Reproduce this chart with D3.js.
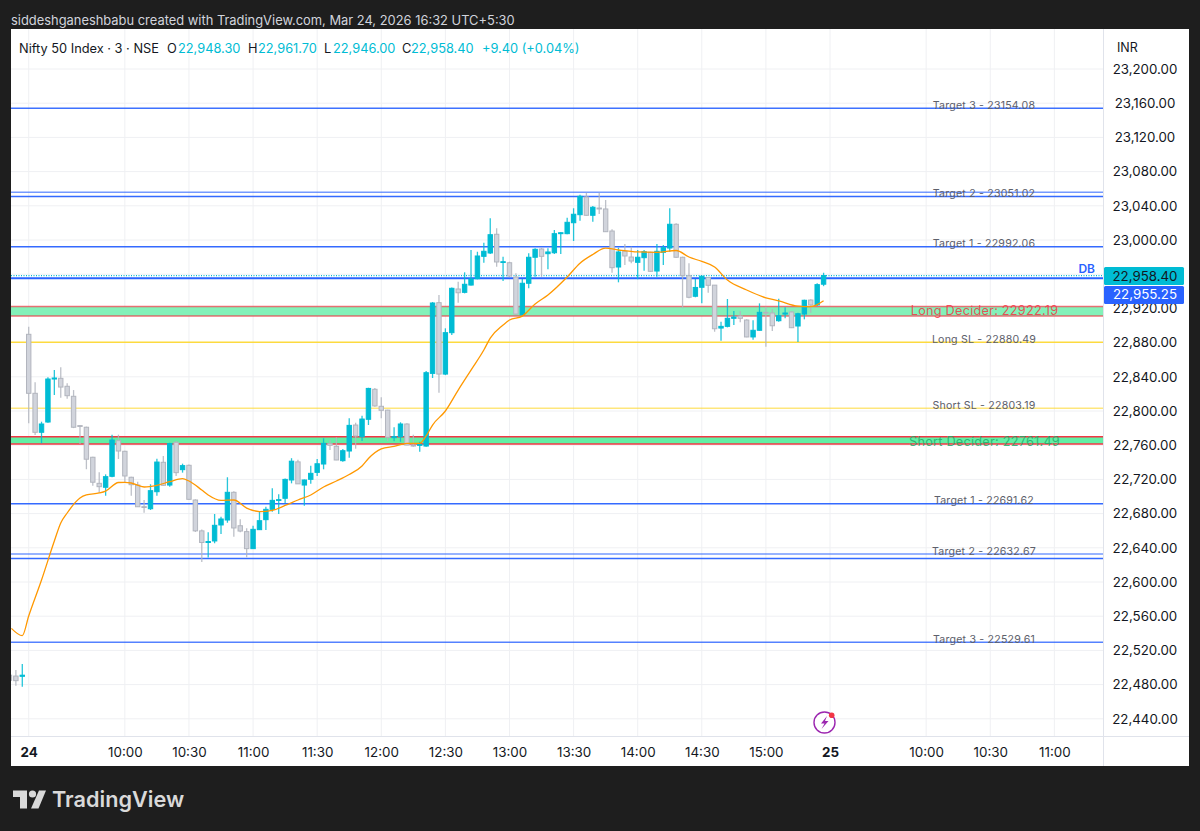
<!DOCTYPE html>
<html>
<head>
<meta charset="utf-8">
<script src="https://cdn.jsdelivr.net/npm/d3@7"></script>
<style>
  html, body { margin: 0; padding: 0; background: #1e1e1e; }
  svg { display: block; }
  text { font-family: Inter, "Noto Sans", sans-serif; }
</style>
</head>
<body>
<div id="data"></div>
<script>
// bars run from -3 (last bars of the 23rd) to 124 (15:27 on the 24th)
var firstBar = -3
var opens = [22491,22490,22489.7,22889.7,22820.7,22775.1,22787.1,22837.4,22838.2,22828.9,22817.2,22782.9,22781,22745.9,22715.4,22710.8,22723.6,22765.3,22752.9,22722.5,22713.4,22688.1,22685.7,22705.6,22740,22713.4,22763.4,22731.4,22736.5,22695.9,22659.8,22646.2,22648,22666.7,22672.5,22704.9,22665.8,22658.9,22639,22661.2,22672.9,22685,22695.5,22697.9,22719.3,22740.5,22713.4,22720.1,22728.2,22738,22761.8,22758.7,22741.9,22753.2,22783.6,22770,22790.3,22825.4,22805.5,22801,22768.8,22770,22784.8,22760.2,22759.8,22759,22844,22926.7,22843.2,22891.6,22942.7,22938.8,22947.3,22954.7,22980.9,22984.8,23006.7,22973.9,22973.4,22956.7,22912.6,22949.4,22979.8,22989.5,22984,22985.1,23007.4,23007.4,23020.2,23029.6,23050.3,23028.9,23037.4,23036.3,23010.5,22968.4,22986.8,22980.1,22973.9,22979.3,22985.6,22963.7,22985.6,22990.6,23018.4,22979.8,22958.3,22934.2,22944.7,22956.2,22947.2,22897,22899,22908.4,22911.1,22906.4,22886.6,22894.4,22915.4,22914.6,22905.6,22913.4,22915.8,22899.4,22913.4,22929.8,22924,22948.3]
var highs = [22495,22497.1,22504.1,22898.6,22833.5,22787.5,22839.4,22847.9,22851.1,22832.4,22824.5,22782.9,22781.7,22746.6,22728.3,22725.9,22772.3,22772.3,22753.6,22723.2,22717.3,22695.9,22714.3,22744.2,22747.4,22763,22764.9,22738.4,22737.5,22696.7,22661.4,22658.1,22679.5,22676.4,22722.5,22706.1,22673.3,22662.8,22665.8,22682.2,22688.1,22709.6,22702.6,22721,22744.8,22742.9,22720,22736,22743.8,22768.1,22766.1,22769.2,22755.6,22791.4,22786.3,22794.5,22827.2,22826.9,22816,22801.6,22780.9,22786.8,22785.6,22772.3,22764,22846.8,22927.5,22935.6,22896.7,22944.3,22951.2,22962.2,22988.3,22986.3,22996.8,23025.4,23013.7,22980.5,22974.6,22961.1,22954.4,22984.4,22990.3,22991,22990.3,23011.7,23009,23026.1,23037.1,23053,23055.3,23039.8,23055.3,23046.8,23012.5,22991,22995.3,22992.2,22988.3,22988.3,22986.3,22995.3,22994.1,23037.1,23019.5,22980.5,22972.7,22954.4,22958.3,22956.4,22947.4,22904.4,22931,22916.9,22916.9,22907.2,22906,22925.9,22922,22919,22931.3,22921.3,22916.9,22915,22930.2,22930.6,22949.4,22961.7]
var lows = [22480,22478.7,22477.5,22785.7,22772,22762.3,22786.3,22818.7,22815.6,22814.3,22780,22761.4,22731.9,22712.7,22704.4,22700.9,22722.5,22743.9,22716.6,22700.9,22688,22681,22684.2,22700.9,22712.3,22711.5,22724,22727.9,22696,22658.6,22623.5,22628.7,22645.3,22656.2,22669.4,22653,22658.1,22628.9,22638.7,22660.8,22660.8,22682.2,22679.5,22692,22715.4,22714.5,22689.2,22714.8,22723.9,22731.8,22754.4,22742.5,22740.7,22745.4,22755.9,22764.9,22783.6,22805.1,22791.4,22764.9,22764.5,22764,22760,22758.2,22752.4,22758.2,22838.6,22821.4,22842,22888.8,22926.6,22937.6,22946.7,22954,22973.4,22983.6,22968.8,22952,22956.4,22913,22911.9,22943.5,22957.1,22957.1,22965.7,22983.6,22983.6,23006.7,22998.8,23022.6,23028.4,23021.4,23030.4,23009.5,22961.8,22950.5,22970.8,22972.7,22954,22964.1,22962.9,22957.1,22970.8,22986.3,22979.3,22920.2,22931.8,22933,22925.9,22938.4,22892.7,22882.2,22897.8,22900.6,22903.7,22886.2,22883.4,22893.9,22875.1,22893.5,22904.4,22908.4,22897,22880.7,22907.2,22915,22922.9,22946]
var closes = [22485,22484.6,22491,22820.7,22775.1,22784.8,22837.4,22838.6,22828,22817.9,22781,22782.2,22743.6,22716.7,22711.5,22723.2,22766.1,22753.2,22724,22713.8,22688,22687.7,22706.8,22740.3,22713.1,22762,22727.9,22736.1,22696.7,22659.8,22646.2,22647.3,22666.3,22673.7,22704.9,22663.2,22659.6,22639,22661.6,22671.7,22685,22695.5,22696.3,22720,22741.3,22714.8,22719.3,22727.1,22738.3,22762.2,22759.9,22742.7,22753.6,22783.2,22770.7,22790.6,22826.4,22805.9,22800.8,22769.2,22770,22784.8,22760.2,22759,22760.9,22844.8,22926.3,22843.2,22891.6,22943.5,22938.3,22948.2,22954.4,22981.3,22986.8,23006.2,22974.3,22974.6,22957.9,22913.4,22949.4,22979.8,22989.1,22980.9,22986,23007.4,23008.5,23020.7,23030.1,23051.1,23028.9,23038.3,23036.3,23009.7,22967.6,22986,22981.3,22975.4,22979.8,22986.3,22963.4,22986.8,22991,23018.4,22979.8,22958.3,22933,22944.5,22957.6,22947,22896.2,22899,22908.4,22909.9,22908.4,22886.6,22894.4,22915.4,22914.6,22899.7,22911.4,22914.6,22897.4,22913.8,22929.5,22924,22947.8,22958.4]

// EMA, on the bars where it bends
var emaBars = [-2.7,-1,0,2,4,5,6,8,9,11,12,14,15,16,18,20,22,24,25,27,28,30,32,34,36,38,40,42,44,46,48,50,52,53,55,57,59,61,62,63,65,67,69,71,72,74,75,77,79,81,84,86,88,90,92,95,98,101,103,105,107,109,112,115,117,120,122,124]
var emaValues = [22545.8,22537.2,22560.2,22602.3,22647.9,22669,22680.7,22698.2,22701.8,22704.1,22706.4,22716.4,22716.6,22715.8,22711.1,22713.1,22717.3,22720.8,22718.1,22707.6,22701.8,22695.5,22695.9,22686.5,22682.4,22683.8,22689.5,22695.9,22701.8,22711.1,22718.1,22725.7,22735.7,22744.4,22755.6,22758.7,22762.2,22762.2,22770.8,22783.6,22800,22824.5,22847.9,22871.3,22885.3,22900.5,22906.4,22911,22925.2,22935.7,22956.7,22972.9,22983.1,22990.4,22988.3,22986,22985.6,22987.7,22980.1,22974.9,22968.4,22953.2,22941.5,22932.4,22928.9,22922.7,22922.1,22928.9]

var priceGrid = [23200,23160,23120,23080,23040,23000,22960,22920,22880,22840,22800,22760,22720,22680,22640,22600,22560,22520,22480,22440]
// 22,960 sits under the price tags, so it gets a grid line and no label
var priceTicks = [23200,23160,23120,23080,23040,23000,22920,22880,22840,22800,22760,22720,22680,22640,22600,22560,22520,22480,22440]
var timeTicks = [0,15,25,35,45,55,65,75,85,95,105,115,125,140,150,160]
var timeLabels = ['24','10:00','10:30','11:00','11:30','12:00','12:30','13:00','13:30','14:00','14:30','15:00','25','10:00','10:30','11:00']

// drawn levels
var targetPrices = [23154.08,23055.9,23051.02,22992.06,22691.62,22632.67,22627.5,22529.61]
var targetAlpha = [0.9,0.65,0.95,0.95,0.95,0.65,0.95,0.8]
var slPrices = [22880.49,22803.19]
var bandTop = [22922.19,22770]
var bandBottom = [22911,22761.49]
var bandFill = ['#83f1b9','#62efa5']
var labelPrices = [23154.08,23051.02,22992.06,22880.49,22803.19,22691.62,22632.67,22529.61]
var labelTexts = ['Target 3 - 23154.08','Target 2 - 23051.02','Target 1 - 22992.06','Long SL - 22880.49','Short SL - 22803.19','Target 1 - 22691.62','Target 2 - 22632.67','Target 3 - 22529.61']
var legendParts = ['O','22,948.30','H','22,961.70','L','22,946.00','C','22,958.40','+9.40 (+0.04%)']
var legendX = [167,178,248,258,324,333,402,411,482]

var teal = '#00bcd4', grey = '#d1d4dc', greyEdge = '#b2b5be', blue = '#2962ff'
var left = 11, right = 1103.5, top_ = 29, bottom = 736.5

var svg = d3.select('div#data').append('svg').attr('width', 1200).attr('height', 831)
svg.append('rect').attr('width', 1200).attr('height', 831).attr('fill', '#1e1e1e')
svg.append('rect').attr('x', left).attr('y', top_).attr('width', 1178).attr('height', 737).attr('fill', '#fff')

svg.append('text').attr('x', 11).attr('y', 24.5).attr('font-size', 12.9).attr('fill', '#d1d4dc')
  .text('siddeshganeshbabu created with TradingView.com, Mar 24, 2026 16:32 UTC+5:30')

var x = d3.scaleLinear().domain([0, 125]).range([28.7, 830])
var y = d3.scaleLinear().domain([23000, 22440]).range([240, 718.8])

svg.append('clipPath').attr('id', 'plot').append('rect')
  .attr('x', left).attr('y', top_).attr('width', right - left).attr('height', bottom - top_)

// axes and grid
var priceAxis = d3.axisRight(y).tickValues(priceTicks).tickSize(0).tickPadding(0).tickFormat(d3.format(',.2f'))
var gy = svg.append('g').attr('transform', 'translate(' + right + ',0)').call(priceAxis)
gy.select('.domain').remove()
gy.selectAll('text').attr('x', 41.5).attr('text-anchor', 'middle').attr('font-size', 13.3)
  .attr('font-family', 'Inter').attr('fill', '#131722')

var timeAxis = d3.axisBottom(x).tickValues(timeTicks).tickSize(0).tickPadding(0)
  .tickFormat(function(d, i){ return timeLabels[i] })
var gx = svg.append('g').attr('transform', 'translate(0,' + bottom + ')').call(timeAxis)
gx.select('.domain').remove()
gx.selectAll('text').attr('y', 11).attr('dy', '0.72em').attr('font-size', 13.4).attr('font-family', 'Inter')
  .attr('fill', '#131722').attr('font-weight', function(d){ return (d == 0 || d == 125) ? 700 : 400 })

var plot = svg.append('g').attr('clip-path', 'url(#plot)')
plot.selectAll('line.gh').data(priceGrid).enter().append('line').attr('class', 'gh')
  .attr('x1', left).attr('x2', right).attr('y1', y).attr('y2', y).attr('stroke', '#eff0f3').attr('stroke-width', 1)
plot.selectAll('line.gv').data(timeTicks).enter().append('line').attr('class', 'gv')
  .attr('x1', x).attr('x2', x).attr('y1', top_).attr('y2', bottom).attr('stroke', '#eff0f3').attr('stroke-width', 1)

// levels
bandTop.forEach(function(p, i){
  plot.append('rect').attr('x', left).attr('width', right - left)
    .attr('y', y(p)).attr('height', y(bandBottom[i]) - y(p)).attr('fill', bandFill[i])
  ;[p, bandBottom[i]].forEach(function(q){
    plot.append('line').attr('x1', left).attr('x2', right).attr('y1', y(q)).attr('y2', y(q))
      .attr('stroke', '#f23645').attr('stroke-width', 1.5).attr('stroke-opacity', i == 0 ? 0.7 : 1)
  })
})
plot.selectAll('line.sl').data(slPrices).enter().append('line').attr('class', 'sl')
  .attr('x1', left).attr('x2', right).attr('y1', y).attr('y2', y)
  .attr('stroke', '#fdd835').attr('stroke-width', 1.6).attr('stroke-opacity', function(d, i){ return i ? 0.65 : 0.95 })
plot.selectAll('line.tg').data(targetPrices).enter().append('line').attr('class', 'tg')
  .attr('x1', left).attr('x2', right).attr('y1', y).attr('y2', y)
  .attr('stroke', blue).attr('stroke-width', 1.5).attr('stroke-opacity', function(d, i){ return targetAlpha[i] })
plot.append('line').attr('x1', left).attr('x2', right).attr('y1', y(22958.4)).attr('y2', y(22958.4))
  .attr('stroke', teal).attr('stroke-width', 1.2).attr('stroke-dasharray', '1,1.5')
plot.append('line').attr('x1', left).attr('x2', right).attr('y1', y(22955.25)).attr('y2', y(22955.25))
  .attr('stroke', blue).attr('stroke-width', 2)

// candles
var bars = opens.map(function(o, i){
  return { i: firstBar + i, o: o, h: highs[i], l: lows[i], c: closes[i], up: closes[i] >= o }
})
var candle = plot.selectAll('g.candle').data(bars).enter().append('g').attr('class', 'candle')
candle.append('line')
  .attr('x1', function(d){ return x(d.i) }).attr('x2', function(d){ return x(d.i) })
  .attr('y1', function(d){ return y(d.h) }).attr('y2', function(d){ return y(d.l) })
  .attr('stroke', function(d){ return d.up ? teal : greyEdge }).attr('stroke-width', 1.3).attr('stroke-opacity', 0.85)
candle.append('rect')
  .attr('x', function(d){ return x(d.i) - 2.2 }).attr('width', 4.4)
  .attr('y', function(d){ return y(Math.max(d.o, d.c)) })
  .attr('height', function(d){ return Math.max(0.8, Math.abs(y(d.o) - y(d.c))) })
  .attr('fill', function(d){ return d.up ? teal : grey })
  .attr('stroke', function(d){ return d.up ? teal : greyEdge }).attr('stroke-width', 1)

// EMA
var ema = d3.line().x(function(d, i){ return x(emaBars[i]) }).y(function(d){ return y(d) }).curve(d3.curveMonotoneX)
plot.append('path').attr('d', ema(emaValues)).attr('fill', 'none').attr('stroke', '#ff9800').attr('stroke-width', 1.3)

// level labels
plot.selectAll('text.lv').data(labelPrices).enter().append('text').attr('class', 'lv')
  .attr('x', 984).attr('y', function(d){ return y(d) + 0.5 }).attr('text-anchor', 'middle')
  .attr('font-size', 10.6).attr('fill', '#5d606b').attr('letter-spacing', 0.2)
  .text(function(d, i){ return labelTexts[i] })
plot.append('text').attr('x', 984.5).attr('y', y(22911) - 1.5).attr('text-anchor', 'middle').attr('font-size', 12.7)
  .attr('fill', '#f23645').attr('fill-opacity', 0.85).attr('letter-spacing', 0.25).text('Long Decider: 22922.19')
plot.append('text').attr('x', 984.5).attr('y', y(22761.49) + 2).attr('text-anchor', 'middle').attr('font-size', 12.7)
  .attr('fill', '#22ab6a').attr('fill-opacity', 0.85).attr('letter-spacing', 0.25).text('Short Decider: 22761.49')
plot.append('text').attr('x', 1095).attr('y', y(22955.25) - 5).attr('text-anchor', 'end').attr('font-size', 12)
  .attr('font-weight', 600).attr('fill', blue).text('DB')

// frame lines
svg.append('line').attr('x1', right).attr('x2', right).attr('y1', top_).attr('y2', 766).attr('stroke', '#e0e3eb')
svg.append('line').attr('x1', left).attr('x2', 1189).attr('y1', bottom).attr('y2', bottom).attr('stroke', '#e0e3eb')

// price tags
svg.append('rect').attr('x', 1104).attr('y', 267).attr('width', 80).attr('height', 18).attr('rx', 1.5).attr('fill', teal)
svg.append('text').attr('x', 1145).attr('y', 275.8).attr('dy', '0.36em').attr('text-anchor', 'middle').attr('font-size', 13.3)
  .attr('fill', '#131722').text(d3.format(',.2f')(22958.4))
svg.append('rect').attr('x', 1104).attr('y', 286).attr('width', 80).attr('height', 18).attr('rx', 1.5).attr('fill', blue)
svg.append('text').attr('x', 1145).attr('y', 294.3).attr('dy', '0.36em').attr('text-anchor', 'middle').attr('font-size', 13.3)
  .attr('fill', '#fff').text(d3.format(',.2f')(22955.25))

// INR box over the scale
svg.append('rect').attr('x', 1104).attr('y', 30).attr('width', 84).attr('height', 31).attr('fill', '#fff')
svg.append('text').attr('x', 1117).attr('y', 52).attr('font-size', 12.5).attr('fill', '#131722').text('INR')

// legend
svg.append('text').attr('x', 19).attr('y', 53).attr('font-size', 12.8).attr('fill', '#131722').text('Nifty 50 Index · 3 · NSE')
svg.selectAll('text.lg').data(legendParts).enter().append('text').attr('class', 'lg')
  .attr('x', function(d, i){ return legendX[i] }).attr('y', 53).attr('font-size', 12.8)
  .attr('fill', function(d, i){ return (i % 2 == 0 && i < 8) ? '#131722' : teal })
  .text(function(d){ return d })

// session-break icon
var icon = svg.append('g').attr('transform', 'translate(824.5,722.5)')
icon.append('circle').attr('r', 10.5).attr('fill', '#fff').attr('stroke', '#9c27b0').attr('stroke-width', 1.4)
icon.append('path').attr('d', 'M2.5,-6.5 L-3.5,1 L0,1 L-3,6.5 L4,-1.5 L0.5,-1.5 Z').attr('fill', '#9c27b0')
icon.append('circle').attr('cx', 7.2).attr('cy', -7.3).attr('r', 2.8).attr('fill', '#f23645')

// logo
var logo = svg.append('g').attr('transform', 'translate(13,786.5)').attr('fill', '#d9d9d9')
logo.append('path').attr('d', 'M14,4 H0 V10.5 H7 V22 H14 Z')
logo.append('circle').attr('cx', 19.5).attr('cy', 7.5).attr('r', 3.6)
logo.append('path').attr('d', 'M25.5,22 H18 L26,4 H33 Z')
svg.append('text').attr('x', 52).attr('y', 807).attr('font-size', 21.7).attr('font-weight', 600)
  .attr('font-family', 'Lato, Inter').attr('fill', '#d9d9d9').text('TradingView')
</script>
</body>
</html>
